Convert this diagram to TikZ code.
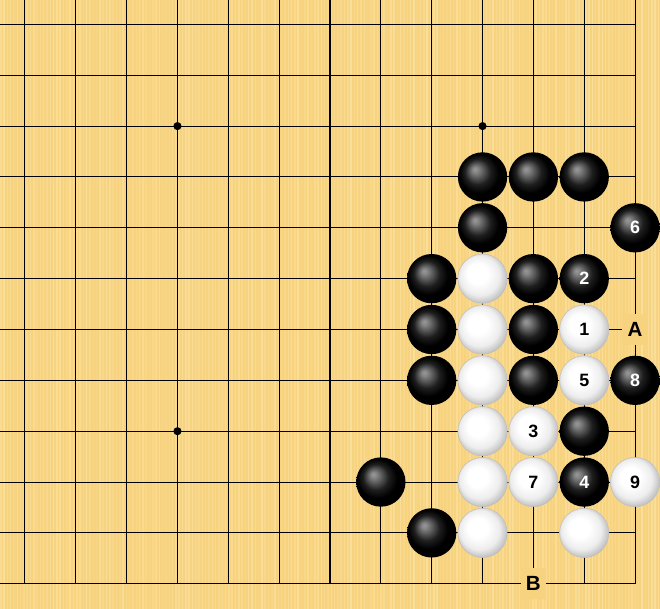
\documentclass[tikz,border=0pt]{standalone}
\usepackage{fontspec}
\setmainfont{Liberation Sans}
\definecolor{board}{RGB}{247,211,128}
\definecolor{boardlight}{RGB}{252,229,166}
\pgfdeclareradialshading{blackstone}{\pgfpoint{-8bp}{8bp}}{color(0bp)=(black!40); color(3bp)=(black!48); color(13bp)=(black!88); color(20bp)=(black); color(30bp)=(black); color(36bp)=(black!65)}
\pgfdeclareradialshading{whitestone}{\pgfpoint{-7bp}{7bp}}{color(0bp)=(white); color(10bp)=(white); color(20bp)=(black!7); color(28bp)=(black!28); color(36bp)=(black!55)}
\tikzset{
  grid line/.style={line width=0.6pt, black},
  black stone/.style={circle, minimum size=0.97cm, inner sep=0pt, shading=blackstone, text=white, font=\bfseries\fontsize{10}{12}\selectfont},
  white stone/.style={circle, minimum size=0.97cm, inner sep=0pt, shading=whitestone, draw=black!25, line width=0.3pt, text=black, font=\bfseries\fontsize{10}{12}\selectfont},
  mark label/.style={fill=board, minimum width=0.5cm, minimum height=0.62cm, inner sep=0pt, font=\bfseries\fontsize{11.5}{13}\selectfont},
}
\begin{document}
\begin{tikzpicture}
    \useasboundingbox (-0.49,-11.49) rectangle (12.49,0.48);
    % board
    \fill[board] (-0.49,-11.49) rectangle (12.49,0.48);
    \pgfmathsetseed{11}
    \foreach \k in {0,...,199}{
        \pgfmathsetmacro{\sx}{-0.49+0.065*\k}
        \pgfmathsetmacro{\so}{0.15+0.55*rnd}
        \fill[boardlight, opacity=\so] (\sx,-11.49) rectangle ++(0.03,11.97);
    }
    % lines
    \foreach \i in {0,...,11} \draw[grid line] (\i,0.48) -- (\i,-11);
    \foreach \j in {0,...,10} \draw[grid line] (-0.49,-\j) -- (12,-\j);
    \draw[grid line] (12,0.48) -- (12,-11) -- (-0.49,-11);
    \foreach \p in {(3,-2),(9,-2),(3,-8)} \fill \p circle (0.08);

    % marks
    \node[mark label] (markA) at (12,-6) {A};
    \node[mark label] (markB) at (10,-11) {B};

    % stones
    \foreach \i/\j/\t in {9/3/,10/3/,11/3/,12/4/6,9/4/,8/5/,10/5/,11/5/2,8/6/,10/6/,
                          8/7/,10/7/,12/7/8,11/8/,7/9/,11/9/4,8/10/}
        \node[black stone] (b\i-\j) at (\i,-\j) {\t};
    \foreach \i/\j/\t in {9/5/,9/6/,11/6/1,9/7/,11/7/5,9/8/,10/8/3,9/9/,10/9/7,12/9/9,
                          9/10/,11/10/}
        \node[white stone] (w\i-\j) at (\i,-\j) {\t};
\end{tikzpicture}
\end{document}
